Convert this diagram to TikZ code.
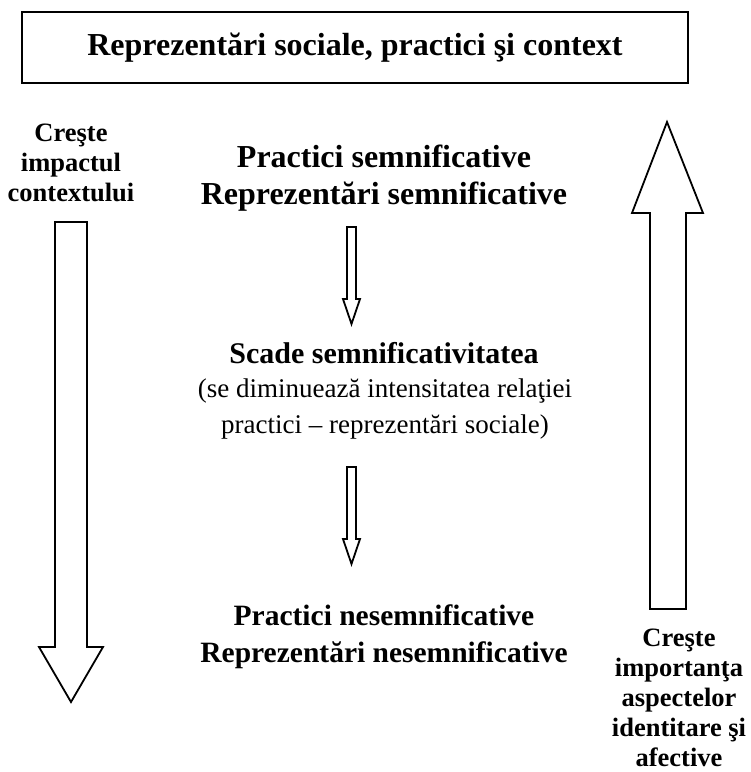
\documentclass[tikz,border=0pt]{standalone}
\usepackage{fontspec}
\setmainfont{Liberation Serif}
\begin{document}
\begin{tikzpicture}[x=1pt,y=-1pt,
  blockarrow/.style={draw=black,line width=1.8pt,fill=white,line join=miter},
  bigtxt/.style={font=\bfseries\fontsize{32}{37}\selectfont,align=center,inner sep=0pt},
  midtxt/.style={font=\bfseries\fontsize{30}{37}\selectfont,align=center,inner sep=0pt},
  lowtxt/.style={font=\bfseries\fontsize{29.5}{37}\selectfont,align=center,inner sep=0pt},
  regtxt/.style={font=\fontsize{27}{36}\selectfont,align=center,inner sep=0pt},
  sidetxt/.style={font=\bfseries\fontsize{26.5}{30}\selectfont,align=center,inner sep=0pt},
  titlebox/.style={draw=black,line width=1.5pt,minimum width=666pt,minimum height=71pt,
     font=\bfseries\fontsize{32}{36}\selectfont,inner sep=0pt}]
\useasboundingbox (0,0) rectangle (751,772);

% title
\node[titlebox] (title) at (355,47.5) {Reprezentări sociale, practici şi context};

% side texts
\node[sidetxt] (lefttxt) at (71,163) {Creşte\\impactul\\contextului};
\node[sidetxt] (righttxt) at (679,698) {Creşte\\importanţa\\aspectelor\\identitare şi\\afective};

% centre texts
\node[bigtxt] (sem) at (384,178.5) {Practici semnificative\\Reprezentări semnificative};
\node[midtxt] (scade) at (384,353) {Scade semnificativitatea};
\node[regtxt] (dimin) at (385,409) {(se diminuează intensitatea relaţiei\\practici -- reprezentări sociale)};
\node[lowtxt] (nesem) at (384,637) {Practici nesemnificative\\Reprezentări nesemnificative};

% left big arrow (down)
\draw[blockarrow] (55,222) -- (87,222) -- (87,647) -- (103,647) -- (71,702)
   -- (39,647) -- (55,647) -- cycle;
% right big arrow (up)
\draw[blockarrow] (650,609) -- (650,213) -- (632,213) -- (667,122) -- (703,213)
   -- (686,213) -- (686,609) -- cycle;
% small arrows
\draw[blockarrow] (347,227) -- (356,227) -- (356,299) -- (360,299) -- (351.5,324)
   -- (343,299) -- (347,299) -- cycle;
\draw[blockarrow] (347,467) -- (356,467) -- (356,539) -- (360,539) -- (351.5,564)
   -- (343,539) -- (347,539) -- cycle;
\end{tikzpicture}
\end{document}
